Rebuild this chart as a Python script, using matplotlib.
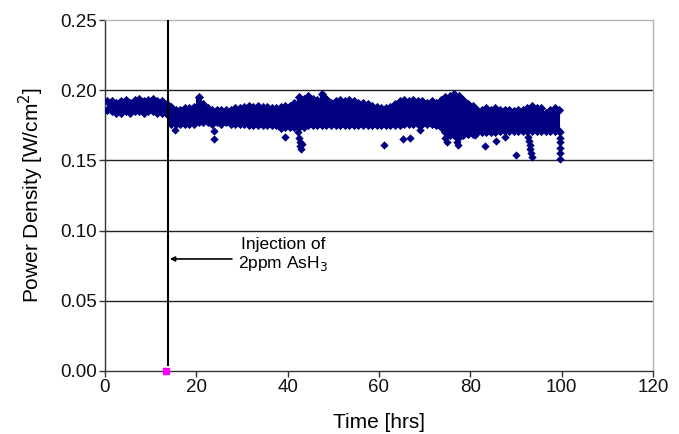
import matplotlib
matplotlib.use("Agg")
import matplotlib.pyplot as plt
import numpy as np

plt.rcParams['font.family'] = ['Liberation Sans', 'DejaVu Sans']

# hourly band of the power density record (upper / lower edge of the point cloud)
hours = np.arange(0, 100)
band_hi = [0.192, 0.192, 0.191, 0.192, 0.193, 0.191, 0.193, 0.194, 0.192, 0.193,
           0.194, 0.192, 0.192, 0.190, 0.188, 0.186, 0.186, 0.187, 0.187, 0.188,
           0.195, 0.190, 0.187, 0.186, 0.186, 0.186, 0.186, 0.186, 0.187, 0.187,
           0.188, 0.189, 0.188, 0.189, 0.188, 0.188, 0.187, 0.187, 0.188, 0.189,
           0.189, 0.191, 0.195, 0.194, 0.196, 0.194, 0.193, 0.197, 0.194, 0.191,
           0.192, 0.193, 0.192, 0.193, 0.192, 0.191, 0.191, 0.190, 0.189, 0.188,
           0.187, 0.187, 0.188, 0.190, 0.192, 0.193, 0.192, 0.193, 0.192, 0.192,
           0.191, 0.192, 0.191, 0.193, 0.195, 0.196, 0.197, 0.196, 0.193, 0.190,
           0.189, 0.186, 0.186, 0.187, 0.186, 0.187, 0.186, 0.186, 0.186, 0.185,
           0.186, 0.186, 0.187, 0.189, 0.187, 0.187, 0.184, 0.186, 0.187, 0.186]
band_lo = [0.186, 0.185, 0.184, 0.184, 0.185, 0.184, 0.185, 0.185, 0.184, 0.185,
           0.185, 0.184, 0.184, 0.183, 0.176, 0.176, 0.176, 0.176, 0.176, 0.176,
           0.177, 0.177, 0.177, 0.176, 0.177, 0.176, 0.177, 0.176, 0.176, 0.176,
           0.176, 0.175, 0.175, 0.175, 0.175, 0.175, 0.175, 0.175, 0.173, 0.174,
           0.174, 0.174, 0.174, 0.174, 0.175, 0.175, 0.175, 0.175, 0.175, 0.175,
           0.175, 0.175, 0.175, 0.175, 0.175, 0.175, 0.175, 0.175, 0.175, 0.175,
           0.175, 0.175, 0.175, 0.175, 0.175, 0.176, 0.176, 0.176, 0.176, 0.176,
           0.176, 0.176, 0.175, 0.174, 0.170, 0.168, 0.168, 0.167, 0.168, 0.169,
           0.169, 0.170, 0.170, 0.170, 0.170, 0.170, 0.171, 0.171, 0.171, 0.171,
           0.171, 0.171, 0.171, 0.171, 0.171, 0.171, 0.171, 0.171, 0.171, 0.171]

# isolated low points below the band
out_t = [15.3, 23.9, 23.9, 39.4, 42.3, 42.5, 42.7, 42.8, 43.0, 43.2, 61.2, 65.3,
         66.8, 69.0, 74.5, 75.0, 76.8, 77.0, 77.1, 77.2, 81.1, 83.3, 85.7, 87.7,
         90.1, 92.6, 92.8, 93.0, 93.1, 93.3, 93.5, 99.6, 99.6, 99.6, 99.6, 99.6, 99.6]
out_v = [0.1717, 0.171, 0.1655, 0.167, 0.170, 0.166, 0.163, 0.160, 0.158, 0.162,
         0.161, 0.1655, 0.166, 0.172, 0.166, 0.163, 0.170, 0.166, 0.163, 0.161,
         0.168, 0.1605, 0.164, 0.167, 0.154, 0.167, 0.164, 0.161, 0.158, 0.155,
         0.1525, 0.170, 0.166, 0.163, 0.159, 0.155, 0.151]

inject_t = 13.9
inject_marker = (13.4, 0.0)

navy = '#000080'

fig = plt.figure(figsize=(6.79, 4.34), dpi=100)
ax = fig.add_axes([0.1546, 0.1452, 0.8071, 0.8087])

tc = hours + 0.5
ax.fill_between(tc, band_lo, band_hi, step='mid', facecolor=navy,
                edgecolor=navy, lw=0.8, zorder=3)
ax.scatter(np.r_[tc, tc], np.r_[band_hi, band_lo], marker='D',
           s=22, color=navy, lw=0, zorder=3)
ax.scatter(out_t, out_v, marker='D', s=18, color=navy, lw=0, zorder=3)

ax.plot([inject_t, inject_t], [0.0043, 0.25], color='black', lw=1.5, zorder=4)
ax.scatter([inject_marker[0]], [inject_marker[1]], marker='s', s=18, color='#ff00ff',
           zorder=5, clip_on=False)

ax.annotate('', xy=(inject_t + 0.3, 0.0798), xytext=(27.8, 0.0798),
            arrowprops=dict(arrowstyle='-|>', color='black', lw=1.2,
                            mutation_scale=7, shrinkA=0, shrinkB=0))
ax.text(39, 0.0825, 'Injection of\n2ppm AsH$_3$', ha='center', va='center',
        fontsize=12.5, linespacing=1.15)

ax.set_xlim(0, 120)
ax.set_ylim(0, 0.25)
ax.set_xticks(np.arange(0, 121, 20))
ax.set_yticks(np.arange(0, 0.251, 0.05))
ax.set_yticklabels(['%.2f' % v for v in np.arange(0, 0.251, 0.05)])
for y in [0.05, 0.10, 0.15, 0.20]:
    ax.axhline(y, color='#222222', lw=1.0, zorder=1)

for s in ['left', 'bottom']:
    ax.spines[s].set_color('#333333')
    ax.spines[s].set_linewidth(1.0)
for s in ['top', 'right']:
    ax.spines[s].set_color('#b5b5b5')
    ax.spines[s].set_linewidth(1.0)
ax.tick_params(direction='out', length=4, width=1, color='#333333',
               labelsize=13.5, labelcolor='#111111', pad=2)

ax.set_xlabel('Time [hrs]', fontsize=15, labelpad=12)
ax.set_ylabel('Power Density [W/cm$^2$]', fontsize=15, labelpad=10)

fig.savefig('out.png', dpi=100)
